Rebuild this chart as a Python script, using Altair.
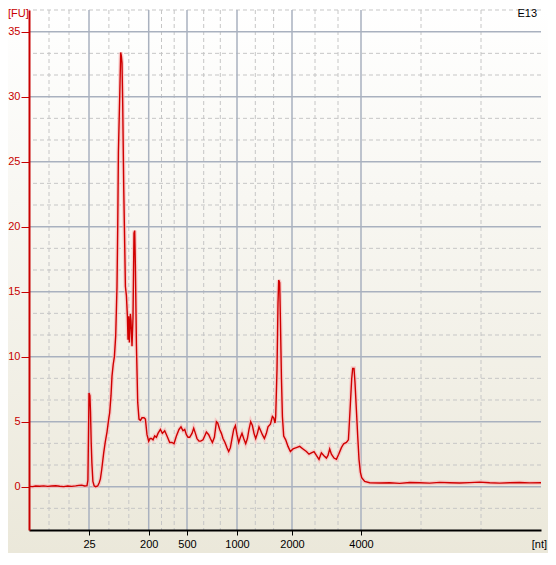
import altair as alt
import pandas as pd

# ---- trace: migration position (arbitrary run units) and fluorescence [FU]
pos = [29.3, 33, 36, 40, 44, 48, 52, 56, 60, 64, 68, 72, 76, 79, 82, 85, 87.3,
       88.2, 88.8, 89.3, 90.2, 90.8, 91.5, 92.2, 93.2, 94.5, 96, 98, 99.5, 100.7,
       102, 104, 105.5, 107.3, 109, 110, 111.3, 112.3, 113.5, 114.7, 116, 117.3,
       118, 118.7, 120, 121, 121.7, 122.3, 123, 124, 124.7, 125.7, 126.7, 127.7,
       128.3, 129, 129.7, 130.7, 131.3, 132.3, 133.3, 134.3, 135, 135.7, 136.7,
       138, 139.3, 140.7, 142.3, 144.3, 145.7, 147.3, 149, 150.3, 151.7, 153.3,
       155, 156.7, 158.3, 160.7, 162.7, 165, 167.3, 170, 172.3, 174.3, 176.7,
       179.3, 181.3, 183.3, 185, 186.7, 188.3, 190, 192.3, 194, 195.7, 197.3,
       199.3, 201, 203.3, 205, 206.7, 209, 210.7, 212.7, 214.7, 216.7, 218, 220,
       221.7, 223.3, 225.3, 227.3, 229, 230.7, 232.3, 234, 235.7, 237.3, 239,
       240.7, 242.3, 244, 246, 247.7, 249.3, 251, 252.7, 254.3, 256, 257.7,
       259.3, 261, 262.7, 264.7, 266.7, 268.3, 270.7, 272.7, 274, 275.3, 276,
       277.3, 278.3, 279, 280, 280.7, 281.7, 282.7, 284, 286, 288.3, 290.7,
       293.3, 296.7, 300, 303.3, 306.7, 309.3, 311.7, 314.3, 316.7, 319.3,
       321.7, 324, 326.7, 328.3, 330, 331.7, 334.3, 336.7, 339, 341.7, 344,
       346.7, 348.7, 349.3, 350.7, 352, 353, 354.3, 355.3, 356.7, 358, 359.3,
       360.7, 362, 365, 370, 380, 390, 400, 410, 420, 430, 440, 450, 460, 470,
       480, 490, 500, 510, 520, 530, 541.3]
fu = [0.02, 0.0, 0.05, 0.03, 0.06, 0.02, 0.05, 0.07, 0.03, 0.0, 0.05, 0.02, 0.06,
      0.1, 0.12, 0.05, 0.08,
      0.5, 4.0, 7.2, 7.0, 5.8, 3.4, 1.8, 0.4, 0.05, 0.0, 0.05, 0.3, 0.6,
      1.3, 2.6, 3.4, 4.2, 5.2, 5.7, 7.0, 8.5, 9.4, 10.0, 11.6, 15.4,
      19.8, 25.7, 30.0, 33.4, 33.1, 32.6, 29.5, 23.1, 20.0, 15.4, 14.7, 13.1,
      11.3, 13.1, 11.1, 13.3, 12.8, 10.8, 13.0, 19.5, 19.7, 16.9, 11.0,
      6.5, 5.2, 5.1, 5.3, 5.3, 5.2, 4.0, 3.5, 3.7, 3.7, 3.6,
      3.9, 3.8, 4.1, 4.4, 4.1, 4.3, 3.9, 3.4, 3.4, 3.3, 3.9,
      4.4, 4.6, 4.3, 4.4, 4.0, 3.8, 3.8, 4.1, 4.5, 4.1, 3.7,
      3.5, 3.5, 3.6, 3.9, 4.2, 4.0, 3.7, 3.4, 3.8, 5.0, 4.9, 4.4,
      4.1, 3.7, 3.4, 3.0, 2.7, 3.0, 3.7, 4.4, 4.7, 4.0, 3.4,
      3.8, 4.1, 3.7, 3.3, 3.7, 4.4, 5.0, 4.7, 4.1, 3.7, 4.1,
      4.6, 4.3, 4.0, 3.7, 4.1, 4.6, 4.8, 5.4, 5.3, 4.9, 5.4,
      9.0, 14.1, 15.9, 15.7, 12.9, 8.5, 5.4, 3.9, 3.6, 3.1, 2.7,
      2.9, 3.0, 3.1, 2.9, 2.7, 2.5, 2.6, 2.7, 2.4, 2.1,
      2.6, 2.4, 2.2, 2.4, 2.9, 2.5, 2.2, 2.1, 2.5, 3.0, 3.3,
      3.4, 3.6, 4.4, 6.4, 8.3, 9.1, 9.1, 8.0, 5.9, 3.9, 2.1,
      1.1, 0.7, 0.4, 0.3, 0.28, 0.3, 0.25, 0.32, 0.3, 0.27, 0.33, 0.3, 0.28,
      0.31, 0.35, 0.3, 0.27, 0.3, 0.32, 0.29, 0.3]

# ---- axis definitions
size_labels = ["25", "200", "500", "1000", "2000", "4000"]
size_pos = [89.3, 149.0, 187.3, 237.3, 292.3, 361.3]
minor_x = [49.3, 69.3, 109.2, 129.1, 161.8, 174.5, 204.0, 220.6, 255.6, 273.9,
           315.3, 338.3, 421.3, 481.3]
major_y = [0, 5, 10, 15, 20, 25, 30, 35]
minor_y = [-1.667, 1.667, 3.333, 6.667, 8.333, 11.667, 13.333, 16.667, 18.333,
           21.667, 23.333, 26.667, 28.333, 31.667, 33.333, 36.667]

X_DOM = [29.3, 541.3]
Y_DOM = [-10 / 3, 110 / 3]
W, H = 512, 520
RED = "#c80000"
FONT = "Liberation Sans"

xs = alt.Scale(domain=X_DOM, nice=False, zero=False)
ys = alt.Scale(domain=Y_DOM, nice=False, zero=False)

trace = pd.DataFrame({"pos": pos, "fu": fu})

label_expr = " : ".join(
    f"abs(datum.value - {p}) < 1 ? '{l}'" for p, l in zip(size_pos, size_labels)
) + " : ''"

x_axis = alt.Axis(
    values=size_pos, labelExpr=label_expr, grid=False, title=None,
    domainColor="black", domainWidth=2, tickColor="black", tickSize=5,
    tickWidth=1, labelColor="black", labelFont=FONT, labelFontSize=11,
    labelPadding=3, zindex=1)
y_axis = alt.Axis(
    values=major_y, grid=False, title=None,
    domainColor=RED, domainWidth=2, tickColor=RED, tickSize=8,
    tickWidth=1, labelColor=RED, labelFont=FONT, labelFontSize=11,
    labelPadding=1, zindex=1)

bg = alt.Chart(pd.DataFrame({"a": [0]})).mark_rect(
    fill={"gradient": "linear", "x1": 0, "x2": 0, "y1": 0, "y2": 1,
          "stops": [{"offset": 0, "color": "#ffffff"},
                    {"offset": 1, "color": "#ebe8da"}]},
    strokeWidth=0,
).encode(x=alt.value(-21), x2=alt.value(W + 7), y=alt.value(-2), y2=alt.value(H + 23))

vminor = alt.Chart(pd.DataFrame({"pos": minor_x})).mark_rule(
    color="#c6c6c6", strokeDash=[4, 3], strokeWidth=1
).encode(x=alt.X("pos:Q", scale=xs, axis=x_axis))

hminor = alt.Chart(pd.DataFrame({"fu": minor_y})).mark_rule(
    color="#c6c6c6", strokeDash=[4, 3], strokeWidth=1
).encode(y=alt.Y("fu:Q", scale=ys, axis=y_axis))

vmajor = alt.Chart(pd.DataFrame({"pos": size_pos})).mark_rule(
    color="#a9b1bf", strokeWidth=1.5
).encode(x=alt.X("pos:Q", scale=xs, axis=x_axis))

hmajor = alt.Chart(pd.DataFrame({"fu": major_y})).mark_rule(
    color="#a9b1bf", strokeWidth=1.5
).encode(y=alt.Y("fu:Q", scale=ys, axis=y_axis))

halo = alt.Chart(trace).mark_line(
    color="#f6bcbc", strokeWidth=4, opacity=0.7
).encode(
    x=alt.X("pos:Q", scale=xs, axis=x_axis),
    y=alt.Y("fu:Q", scale=ys, axis=y_axis),
)

line = alt.Chart(trace).mark_line(color="#d00000", strokeWidth=1.4).encode(
    x=alt.X("pos:Q", scale=xs, axis=x_axis),
    y=alt.Y("fu:Q", scale=ys, axis=y_axis),
)

fu_title = alt.Chart(pd.DataFrame({"t": ["[FU]"]})).mark_text(
    font=FONT, fontSize=11, color=RED, align="left", baseline="top"
).encode(text="t:N", x=alt.value(-21), y=alt.value(-2))

nt_title = alt.Chart(pd.DataFrame({"t": ["[nt]"]})).mark_text(
    font=FONT, fontSize=11, color="black", align="right", baseline="top"
).encode(text="t:N", x=alt.value(W + 6), y=alt.value(H + 9))

well = alt.Chart(pd.DataFrame({"t": ["E13"]})).mark_text(
    font=FONT, fontSize=11, color="black", align="right", baseline="top"
).encode(text="t:N", x=alt.value(W - 4), y=alt.value(-2))

chart = alt.layer(
    bg, vminor, hminor, vmajor, hmajor, halo, line, fu_title, nt_title, well
).properties(
    width=W, height=H,
    padding={"left": 21, "top": 2, "right": 7, "bottom": 23},
    autosize=alt.AutoSizeParams(type="none"),
    background="#ffffff",
).configure_view(stroke=None)

chart.save("out.html", embed_options={"renderer": "svg", "actions": False})
